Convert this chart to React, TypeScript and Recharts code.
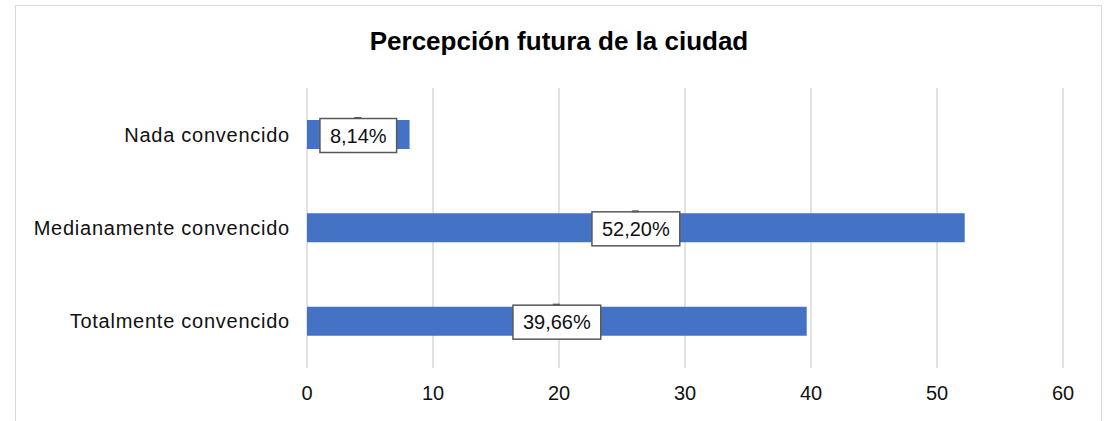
import { BarChart, Bar, XAxis, YAxis, CartesianGrid, LabelList } from "recharts";

const CATEGORIES = ["Nada convencido", "Medianamente convencido", "Totalmente convencido"];
const VALUES = [8.14, 52.2, 39.66];
const X_TICKS = [0, 10, 20, 30, 40, 50, 60];

const FONT = "'Liberation Sans', Arial, sans-serif";

const data = CATEGORIES.map((name, i) => ({ name, value: VALUES[i] }));

const fmt = (v: number) => v.toFixed(2).replace(".", ",") + "%";

// rough Arial widths, good enough to size the label box
const textWidth = (s: string, size: number) => {
   let w = 0;
   for (const ch of s) {
      if (ch === ",") w += 0.278;
      else if (ch === "%") w += 0.889;
      else w += 0.556;
   }
   return w * size;
};

const BoxLabel = (props: any) => {
   const { x, y, width, height, value } = props;
   const text = fmt(Number(value));
   const cx = x + width / 2;
   const cy = y + height / 2 + 1;
   const w = textWidth(text, 20) + 20;
   const h = 34;
   return (
      <g>
         <rect x={cx - w / 2} y={cy - h / 2} width={w} height={h} fill="#fff" stroke="#595959" strokeWidth={1.5} />
         <rect x={cx - 4} y={cy - h / 2 - 1.5} width={7} height={2} fill="#595959" />
         <text x={cx} y={cy + 7} textAnchor="middle" fontSize={20} fontFamily={FONT} fill="#111">
            {text}
         </text>
      </g>
   );
};

const App = () => {
   return (
      <div style={{ position: "absolute", left: 0, top: 0, width: 1109, height: 421, background: "#fff", overflow: "hidden" }}>
         {/* chart frame */}
         <div
            style={{
               position: "absolute",
               left: 15,
               top: 5,
               width: 1087,
               height: 430,
               border: "1.5px solid #d9d9d9",
               boxSizing: "border-box",
            }}
         />
         <div
            style={{
               position: "absolute",
               left: 15,
               width: 1088,
               top: 26,
               lineHeight: "30px",
               textAlign: "center",
               fontFamily: FONT,
               fontWeight: "bold",
               fontSize: 26,
               color: "#000",
            }}>
            Percepción futura de la ciudad
         </div>
         <div style={{ position: "absolute", left: 0, top: 0 }}>
            <BarChart
               width={1109}
               height={421}
               data={data}
               layout="vertical"
               margin={{ top: 88, right: 46, bottom: 23, left: 0 }}>
               <CartesianGrid horizontal={false} stroke="#d9d9d9" strokeWidth={1.5} />
               <XAxis
                  type="number"
                  domain={[0, 60]}
                  ticks={X_TICKS}
                  axisLine={false}
                  tickLine={false}
                  tickMargin={12}
                  height={30}
                  tick={{ fill: "#111", fontSize: 20, fontFamily: FONT }}
               />
               <YAxis
                  type="category"
                  dataKey="name"
                  width={307}
                  axisLine={false}
                  tickLine={false}
                  tickMargin={11}
                  tick={{ fill: "#111", fontSize: 20, fontFamily: FONT, letterSpacing: 0.75 }}
               />
               <Bar dataKey="value" fill="#4472c4" barSize={29} isAnimationActive={false}>
                  <LabelList dataKey="value" content={BoxLabel} />
               </Bar>
            </BarChart>
         </div>
      </div>
   );
};

export default App;
